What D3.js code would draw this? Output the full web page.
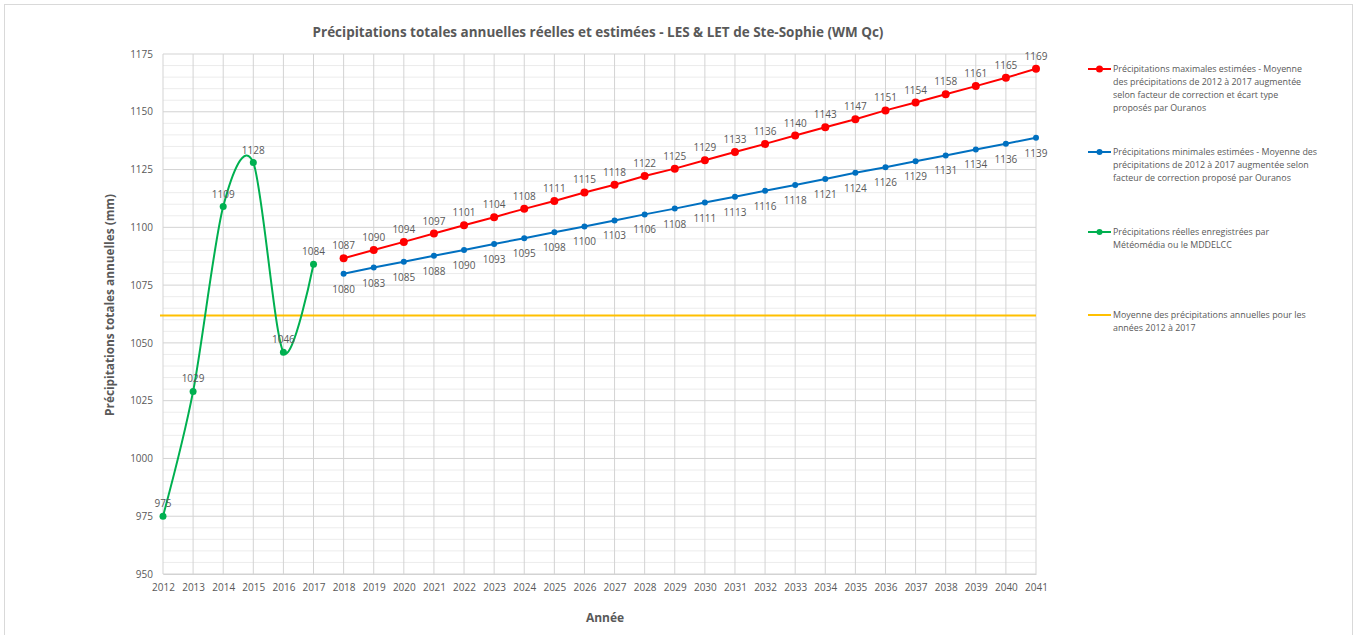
<!DOCTYPE html>
<html><head><meta charset="utf-8">
<script src="https://cdn.jsdelivr.net/npm/d3@7"></script>
<style>body{margin:0;background:#fff}svg{display:block}text{font-family:"Open Sans",sans-serif}</style>
</head><body>
<script>
const years = d3.range(2012, 2042);
const realYears = [2012,2013,2014,2015,2016,2017];
const realValues = [975,1029,1109,1128,1046,1084];
const estYears = d3.range(2018, 2042);
const maxValues = [1086.6,1090.2,1093.7,1097.3,1100.9,1104.4,1108.0,1111.4,1115.1,1118.4,1122.2,1125.4,1129.0,1132.6,1136.1,1139.7,1143.3,1146.8,1150.6,1154.0,1157.6,1161.1,1164.7,1168.6];
const minValues = [1079.9,1082.6,1085.1,1087.7,1090.2,1092.8,1095.3,1097.9,1100.4,1103.0,1105.6,1108.1,1110.7,1113.2,1115.8,1118.3,1120.9,1123.6,1126.0,1128.6,1131.1,1133.7,1136.2,1138.8];
const meanValue = 1061.8;
const yTicks = [950,975,1000,1025,1050,1075,1100,1125,1150,1175];
const legendItems = [
  {color:"#ff0000", marker:true, lines:["Précipitations maximales estimées - Moyenne","des précipitations de 2012 à 2017 augmentée","selon facteur de correction et écart type","proposés par Ouranos"]},
  {color:"#0070c0", marker:true, lines:["Précipitations minimales estimées - Moyenne des","précipitations de 2012 à 2017 augmentée selon","facteur de correction proposé par Ouranos"]},
  {color:"#00b050", marker:true, lines:["Précipitations réelles enregistrées par","Météomédia ou le MDDELCC"]},
  {color:"#ffc000", marker:false, lines:["Moyenne des précipitations annuelles pour les","années 2012 à 2017"]}
];
const title = "Précipitations totales annuelles réelles et estimées - LES & LET de Ste-Sophie (WM Qc)";

const W=1358,H=635;
const svg=d3.select("body").append("svg").attr("width",W).attr("height",H);
svg.append("rect").attr("x",4.5).attr("y",4.5).attr("width",1348).attr("height",640).attr("fill","#fff").attr("stroke","#d9d9d9");

const L=163,R=1036,T=54,B=574;
const x=d3.scaleLinear().domain([2012,2041]).range([L,R]);
const y=d3.scaleLinear().domain([950,1175]).range([B,T]);
const g=svg.append("g");
const fmt=d3.format(".0f");

g.selectAll(".minor").data(d3.range(950,1176,5).filter(v=>v%25!==0)).join("line")
  .attr("x1",L).attr("x2",R).attr("y1",d=>y(d)).attr("y2",d=>y(d)).attr("stroke","#ececec").attr("stroke-width",1);
g.selectAll(".vgrid").data(years).join("line")
  .attr("x1",d=>x(d)).attr("x2",d=>x(d)).attr("y1",T).attr("y2",B).attr("stroke","#d3d3d3").attr("stroke-width",1);
g.selectAll(".major").data(yTicks).join("line")
  .attr("x1",L).attr("x2",R).attr("y1",d=>y(d)).attr("y2",d=>y(d)).attr("stroke","#d3d3d3").attr("stroke-width",1);

const yAxis=d3.axisLeft(y).tickValues(yTicks).tickFormat(d3.format("d")).tickSize(0).tickPadding(10);
const ya=svg.append("g").attr("transform",`translate(${L},0)`).call(yAxis);
ya.select(".domain").remove();
ya.selectAll("text").attr("fill","#595959").style("font-size","10px");
const xAxis=d3.axisBottom(x).tickValues(years).tickFormat(d3.format("d")).tickSize(0).tickPadding(10);
const xa=svg.append("g").attr("transform",`translate(0,${B})`).call(xAxis);
xa.select(".domain").attr("stroke","#d3d3d3");
xa.selectAll("text").attr("fill","#595959").style("font-size","10px");

svg.append("line").attr("x1",L-3).attr("x2",R).attr("y1",y(meanValue)).attr("y2",y(meanValue)).attr("stroke","#ffc000").attr("stroke-width",2);

function series(xs,vs,color,curve,r,labelDy){
  const pts=xs.map((d,i)=>[d,vs[i]]);
  svg.append("path").datum(pts).attr("fill","none").attr("stroke",color).attr("stroke-width",2)
    .attr("d",d3.line().x(d=>x(d[0])).y(d=>y(d[1])).curve(curve));
  svg.append("g").selectAll("circle").data(pts).join("circle").attr("cx",d=>x(d[0])).attr("cy",d=>y(d[1])).attr("r",r).attr("fill",color);
  svg.append("g").selectAll("text").data(pts).join("text").attr("x",d=>x(d[0])).attr("y",d=>y(d[1])+labelDy)
    .attr("text-anchor","middle").attr("fill","#595959").style("font-size","10px").text(d=>fmt(d[1]));
}
series(realYears,realValues,"#00b050",d3.curveCardinal.tension(0.1),3.5,-9);
series(estYears,minValues,"#0070c0",d3.curveLinear,3,19);
series(estYears,maxValues,"#ff0000",d3.curveLinear,4,-9);

const t=svg.append("text").attr("x",598).attr("y",37).attr("text-anchor","middle").attr("fill","#595959")
  .style("font-size","14px").style("font-weight","bold").text(title);
let tw=t.node().getComputedTextLength(); t.style("font-size",(14*571/tw)+"px");

const yl=svg.append("text").attr("transform","translate(114,305) rotate(-90)").attr("text-anchor","middle").attr("fill","#595959")
  .style("font-size","12px").style("font-weight","bold").text("Précipitations totales annuelles (mm)");
tw=yl.node().getComputedTextLength(); yl.style("font-size",(12*222/tw)+"px");
svg.append("text").attr("x",605).attr("y",622).attr("text-anchor","middle").attr("fill","#595959")
  .style("font-size","12px").style("font-weight","bold").text("Année");

const legY=[69,152,232,315];
legendItems.forEach((it,i)=>{
  const lg=svg.append("g");
  lg.append("line").attr("x1",1088).attr("x2",1111).attr("y1",legY[i]).attr("y2",legY[i]).attr("stroke",it.color).attr("stroke-width",2);
  if(it.marker) lg.append("circle").attr("cx",1099.5).attr("cy",legY[i]).attr("r",i===0?3.5:3).attr("fill",it.color);
  it.lines.forEach((s,j)=>{
    lg.append("text").attr("x",1113).attr("y",legY[i]+3+j*13).attr("fill","#595959").style("font-size","8.9px").text(s);
  });
});
</script>
</body></html>
